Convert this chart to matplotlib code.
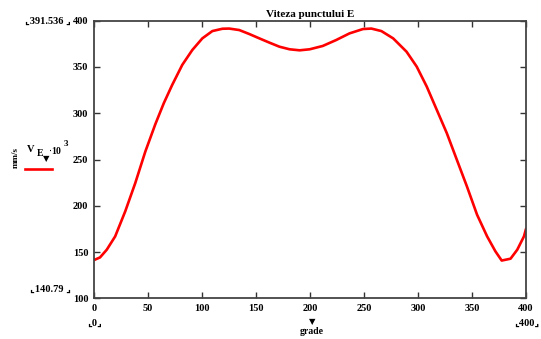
import matplotlib
matplotlib.use("Agg")
import matplotlib.pyplot as plt

grade = [0, 5.6, 11.8, 19.6, 28.9, 38.2, 47.5, 56.8, 64.6, 72.4, 81.7, 91, 100.3,
         109.6, 118.9, 125.2, 134.5, 143.8, 153.1, 162.4, 171.7, 181.1, 190.4, 199.7,
         211.8, 224.2, 236.6, 249.1, 256.8, 266.1, 277, 289.4, 298.8, 308.1, 317.4,
         326.7, 336, 345.3, 354.7, 364, 371.7, 377.5, 385.7, 391.9, 398.1, 400]
ve = [141.3, 144.2, 152.5, 166.9, 193.9, 224.5, 258.5, 288.2, 310.8, 330.6, 352.2, 368.3, 380.9,
      388.8, 391.3, 391.5, 389.9, 385.6, 380.9, 376.3, 371.9, 369.1, 368, 369.1,
      372.7, 379.1, 386.3, 391, 391.5, 388.8, 380.9, 366.5, 350.4, 328.8, 303.6,
      278.4, 249.6, 220.9, 190.3, 166.9, 150.7, 140.8, 142.8, 152.5, 166.9, 175]
xticks = [0, 50, 100, 150, 200, 250, 300, 350, 400]
yticks = [100, 150, 200, 250, 300, 350, 400]

FONT = "Liberation Serif"
fig = plt.figure(figsize=(5.41, 3.39), dpi=100)
ax = fig.add_axes([94/541, 1-298.3/339, (526-94)/541, (298.3-20.7)/339])
ax.plot(grade, ve, color="#ff0000", lw=1.9, solid_joinstyle="round",
        solid_capstyle="round", antialiased=True)
ax.set_xlim(0, 400)
ax.set_ylim(100, 400)
ax.set_xticks(xticks)
ax.set_yticks(yticks)
ax.tick_params(direction="in", length=4, width=1, color="#333333",
               top=True, right=True, labelsize=7.5, pad=4)
for lab in ax.get_xticklabels() + ax.get_yticklabels():
    lab.set_fontfamily(FONT)
    lab.set_fontweight("bold")
for s in ax.spines.values():
    s.set_color("#444444")
    s.set_linewidth(1.3)
ax.set_title("Viteza punctului E", fontsize=8, fontweight="bold", family=FONT, pad=3)

tk = dict(fontsize=7.5, fontweight="bold", family=[FONT, "DejaVu Sans"], color="black")
fig.text(71/541, 1-21/339, "⌞391.536 ⌟", ha="right", va="center", **tk)
fig.text(71/541, 1-289/339, "⌞140.79 ⌟", ha="right", va="center", **tk)
fig.text(95/541, 1-323/339, "⌞0⌟", ha="center", va="center", **tk)
fig.text(527/541, 1-323/339, "⌞400⌟", ha="center", va="center", **tk)
fig.text(312/541, 1-331/339, "grade", ha="center", va="center", fontsize=7,
         fontweight="bold", family=FONT)
fig.text(312/541, 1-322/339, "▼", ha="center", va="center", fontsize=6,
         family="DejaVu Sans")
fig.text(16/541, 1-158/339, "mm/s", ha="center", va="center", rotation=90,
         fontsize=6.5, fontweight="bold", family=FONT)
fig.text(27/541, 1-150/339, "V", ha="left", va="center", fontsize=7.5,
         fontweight="bold", family=FONT)
fig.text(37/541, 1-154/339, "E", ha="left", va="center", fontsize=7,
         fontweight="bold", family=FONT)
fig.text(46/541, 1-159/339, "▼", ha="center", va="center", fontsize=6,
         family="DejaVu Sans")
fig.text(48/541, 1-151/339, r"$\cdot$10", ha="left", va="center", fontsize=7,
         fontweight="bold", family=FONT)
fig.text(64/541, 1-144/339, "3", ha="left", va="center", fontsize=6.5,
         fontweight="bold", family=FONT)
fig.add_artist(plt.Line2D([25/541, 52/541], [1-169/339, 1-169/339],
                          color="#ff0000", lw=1.9, transform=fig.transFigure))
fig.savefig("out.png", dpi=100)
